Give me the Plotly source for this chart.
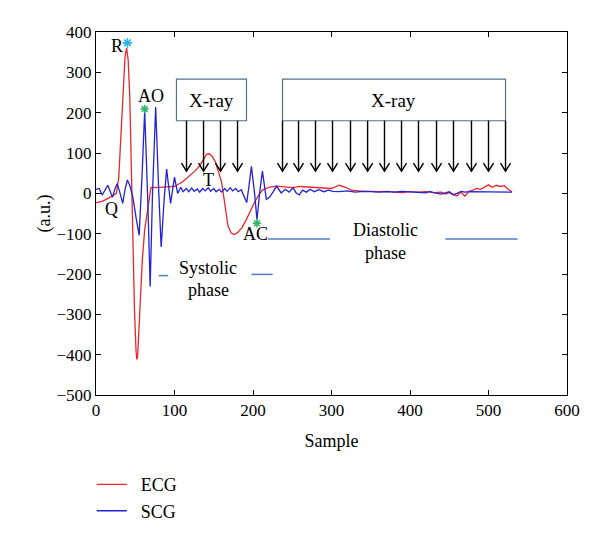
import plotly.graph_objects as go

# ---------------- data ----------------
ecg_x = [0, 8, 16, 22, 26, 29, 31, 33, 35, 37, 39, 41, 43, 45, 47, 49, 51, 52, 53, 55,
         57, 59, 62, 66, 70, 80, 90, 100, 110, 115, 120, 126, 132, 137, 141, 144, 148, 152, 156, 160,
         164, 168, 172, 176, 180, 186, 191, 196, 202, 207, 212, 220, 230, 240, 250, 260, 270, 280, 290, 300,
         310, 318, 325, 332, 340, 350, 360, 370, 380, 390, 400, 410, 420, 430, 440, 445, 450, 455, 460, 465,
         470, 475, 480, 485, 490, 495, 500, 505, 510, 515, 520, 525, 530]
ecg_y = [-23, -20, -12, -5, 0, 40, 120, 200, 282, 340, 360, 330, 241, 60, -125, -288, -390, -412, -405, -330,
         -240, -165, -90, -43, 14, 15, 16, 17, 28, 36, 44, 55, 68, 85, 97, 98, 92, 78, 55, 28,
         -25, -80, -98, -102, -98, -85, -67, -45, -22, -5, 8, 15, 18, 16, 14, 17, 16, 14, 13, 12,
         20, 15, 8, 6, 5, 5, 4, 5, 3, 2, 4, 3, 4, 2, 3, -2, 2, -4, -6, 3,
         -7, 5, 8, 12, 10, 16, 21, 15, 20, 17, 19, 10, 4]

scg_x = [0, 4, 8, 12, 15, 18, 21, 24, 27, 30,
         34, 37, 40, 43, 47, 51, 55, 59, 62, 66,
         69, 72, 76, 80, 83, 87, 90, 95, 100, 104,
         108, 111, 115, 118, 122, 125, 129, 132, 136, 139,
         143, 146, 150, 153, 157, 160, 164, 167, 171, 174,
         178, 181, 185, 188, 192, 195, 198, 202, 205, 209,
         212, 217, 221, 226, 230, 236, 241, 246, 251, 255,
         259, 263, 268, 273, 278, 284, 290, 296, 302, 310,
         320, 330, 340, 350, 360, 370, 380, 390, 400, 410,
         420, 425, 430, 440, 450, 455, 460, 465, 470, 475,
         480, 490, 500, 510, 520, 530]
scg_y = [10, 12, -4, 8, 20, 5, -10, 10, 24, 5,
         -25, 10, 33, 20, -10, -60, -104, 60, 204, -20,
         -231, 0, 214, 0, -133, -10, 60, -25, 40, 0,
         15, 4, 12, 4, 13, 5, 11, 3, 12, 6,
         14, 5, 12, 4, 10, 3, 12, 5, 14, 6,
         12, 4, 9, -5, -23, 20, 67, 0, -65, 10,
         55, -15, -10, 5, 18, 1, 10, 3, 14, 1,
         -4, 8, 3, 10, 4, 9, 4, 8, 5, 4,
         6, 3, 5, 4, 3, 4, 3, 5, 4, 3,
         1, 5, 2, -2, 4, -3, 0, 5, 3, 4,
         4, 4, 4, 4, 4, 3]

x_ticks = [0, 100, 200, 300, 400, 500, 600]
y_ticks = [-500, -400, -300, -200, -100, 0, 100, 200, 300, 400]

# X-ray windows (sample ranges) and arrow positions
xray_box1 = [102.5, 191.7]
xray_box2 = [237.6, 521.7]
xray_arrows1 = [115.3, 137.0, 158.6, 180.3]
xray_arrows2 = [237.6, 258.0, 279.6, 301.3, 324.2, 346.0, 367.5, 389.2,
                410.8, 433.8, 455.4, 478.3, 500.0, 521.7]

# ---------------- styling ----------------
FONT = "Liberation Serif, Times New Roman, serif"
RED = "#e8282b"
BLUE = "#2222d8"
SEG = "#4f7fc4"
BOXC = "#52708f"
CYAN = "#2ab4e0"
GREEN = "#2fb36a"
PAD = "\u00a0\u00a0"

fig = go.Figure()
fig.add_trace(go.Scatter(x=ecg_x, y=ecg_y, mode="lines", name=PAD + "ECG",
                         line=dict(color=RED, width=1.3)))
fig.add_trace(go.Scatter(x=scg_x, y=scg_y, mode="lines", name=PAD + "SCG",
                         line=dict(color=BLUE, width=1.3)))

# asterisk markers
fig.add_trace(go.Scatter(x=[40], y=[373], mode="markers", showlegend=False,
                         marker=dict(symbol="asterisk-open", size=8, color=CYAN,
                                     line=dict(color=CYAN, width=1.6))))
fig.add_trace(go.Scatter(x=[62, 205], y=[209, -74], mode="markers", showlegend=False,
                         marker=dict(symbol="asterisk-open", size=7, color=GREEN,
                                     line=dict(color=GREEN, width=1.5))))

shapes = []
box_top, box_bot, tip = 283, 180, 55
for bx in (xray_box1, xray_box2):
    shapes.append(dict(type="rect", xref="x", yref="y", x0=bx[0], x1=bx[1],
                       y0=box_bot, y1=box_top, line=dict(color=BOXC, width=1.2),
                       fillcolor="white", layer="above"))
for ax in xray_arrows1 + xray_arrows2:
    shapes.append(dict(type="line", xref="x", yref="y", x0=ax, x1=ax, y0=box_bot, y1=tip,
                       line=dict(color="black", width=1.4)))
    shapes.append(dict(type="path", xref="x", yref="y",
                       path=f"M {ax-6.4},{tip+20} L {ax},{tip} L {ax+6.4},{tip+20}",
                       line=dict(color="black", width=1.4)))

# phase marker segments
for x0, x1, yy in [(80, 92, -204), (198, 225, -201), (219, 298, -113), (445, 537, -113)]:
    shapes.append(dict(type="line", xref="x", yref="y", x0=x0, x1=x1, y0=yy, y1=yy,
                       line=dict(color=SEG, width=1.5)))

ann = []
def txt(x, y, s, size=18):
    ann.append(dict(x=x, y=y, xref="x", yref="y", text=s, showarrow=False,
                    font=dict(family=FONT, size=size, color="black")))

txt(27, 366, "R")
txt(69.5, 241, "AO")
txt(20, -40, "Q")
txt(143, 33, "T")
txt(203, -101, "AC")
txt(143, -184, "Systolic")
txt(143, -240, "phase")
txt(369, -91, "Diastolic")
txt(369, -147, "phase")
txt(147, 231, "X-ray", 19)
txt(379, 231, "X-ray", 19)

axis_common = dict(showline=True, linecolor="black", linewidth=1, mirror="ticks",
                   ticks="inside", ticklen=5, tickcolor="black", showgrid=False,
                   zeroline=False, automargin=False,
                   tickfont=dict(family=FONT, size=17, color="black"))

fig.update_layout(
    width=592, height=533,
    margin=dict(l=88, r=33, t=24, b=141),
    paper_bgcolor="white", plot_bgcolor="white",
    font=dict(family=FONT, size=17, color="black"),
    shapes=shapes, annotations=ann,
    xaxis=dict(range=[0, 600], tickvals=x_ticks,
               title=dict(text="Sample", font=dict(family=FONT, size=18), standoff=14),
               **axis_common),
    yaxis=dict(range=[-500, 400], tickvals=y_ticks,
               title=dict(text="(a.u.)", font=dict(family=FONT, size=18), standoff=1),
               **axis_common),
    legend=dict(x=-0.009, y=-0.196, xanchor="left", yanchor="top",
                font=dict(family=FONT, size=18), bgcolor="rgba(0,0,0,0)",
                tracegroupgap=0),
    showlegend=True,
)

fig.write_html("out.html")
